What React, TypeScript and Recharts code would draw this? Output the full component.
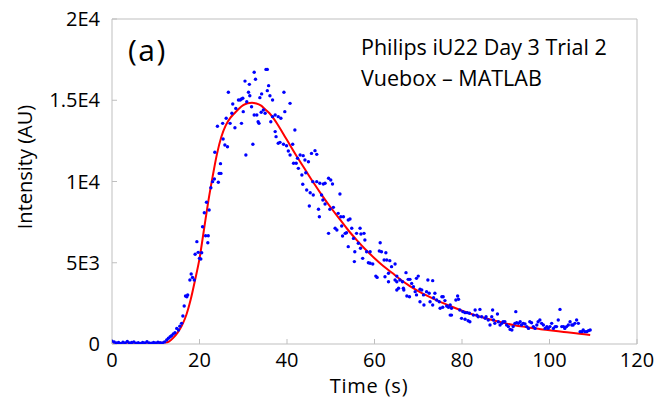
import { ComposedChart, Line, Scatter, XAxis, YAxis } from "recharts";

// axis ticks
const xTicks = [0, 20, 40, 60, 80, 100, 120];
const yTicks = [0, 5000, 10000, 15000, 20000];
const yTickLabels = ["0", "5E3", "1E4", "1.5E4", "2E4"];

const baselinePoints = [
  [0, 180], [0.5, 120], [1, 60], [1.5, 90], [2, 40], [2.5, 110], [3, 70], [3.5, 150], [4, 60],
  [4.5, 90], [5, 130], [5.5, 50], [6, 80], [6.5, 40], [7, 100], [7.5, 60], [8, 140], [8.5, 70],
  [9, 50], [9.5, 90], [10, 60], [10.5, 110], [11, 80], [11.5, 60], [12, 130],
];

const risePoints = [
  [12.5, 250], [12.9, 350], [13.3, 450], [13.6, 510], [14.0, 615], [14.4, 700], [14.8, 960],
  [15.2, 860], [15.5, 1100], [15.9, 1270], [16.2, 1720], [16.5, 2340], [16.8, 2950], [17.1, 2910],
  [17.3, 3020], [17.8, 3940], [18.1, 4310], [18.4, 4100], [18.8, 3940], [19.0, 5520], [19.4, 6300],
  [19.7, 5640], [20.0, 5270], [20.3, 5230], [20.5, 5620], [20.7, 7220], [21.1, 8080], [21.4, 6660],
  [21.6, 8720], [21.9, 6230], [22.0, 6660], [22.2, 8250],
];

const peakPoints = [
  [22.6, 9620], [23.0, 9990], [23.4, 10150], [23.5, 11800], [24.1, 13400], [24.3, 9950],
  [24.5, 10500], [24.8, 11100], [24.9, 10500], [25.3, 13580], [25.4, 12620], [25.8, 12250],
  [26.1, 13890], [26.4, 12140], [26.6, 15490], [27.0, 13580], [27.4, 14200], [27.6, 14770],
  [28.1, 13310], [28.3, 14500], [28.9, 15020], [29.3, 15020], [29.6, 15080], [29.6, 13580],
  [29.9, 15120], [30.0, 14300], [30.4, 16180], [30.6, 11630], [30.8, 14910], [31.2, 15490],
  [31.4, 15980], [31.5, 15280], [31.9, 14600], [32.2, 12290], [32.5, 16720], [32.5, 14090],
  [32.8, 16290], [33.1, 14090], [33.4, 13680], [33.6, 13580], [33.8, 15160], [34.1, 14260],
  [34.2, 15390], [34.6, 14400], [35.0, 14200], [35.2, 16900], [35.5, 16900], [35.5, 15590],
  [35.8, 15900], [36.1, 15280], [36.3, 13680], [36.7, 15020], [36.7, 13990], [37.3, 14090],
  [37.3, 13070], [37.5, 12760], [38.0, 13990], [38.0, 12350], [38.4, 12410], [38.6, 13890],
  [39.2, 12290], [39.3, 15490], [39.5, 14300], [39.9, 12200], [40.3, 11880], [40.7, 14810],
  [40.7, 11630], [41.3, 12290], [41.5, 11120], [41.8, 13170], [42.1, 11120], [42.4, 11430],
  [42.6, 10810],
];

const washoutPoints = [
  [43.0, 11630], [43.4, 10400], [43.6, 9830], [43.7, 11590], [44.1, 11320], [44.3, 10540],
  [44.5, 9480], [44.9, 11220], [45.1, 8490], [45.3, 9310], [45.6, 11730], [45.9, 9990],
  [46.0, 9170], [46.4, 11900], [46.8, 11670], [46.8, 9990], [47.2, 8290], [47.4, 7830],
  [47.5, 9890], [47.9, 9170], [48.2, 8860], [48.3, 9850], [48.7, 9890], [48.7, 8620],
  [49.5, 10200], [49.5, 6810], [49.8, 8290], [50.0, 10090], [50.4, 9850], [50.6, 8410],
  [51.0, 7120], [51.4, 7020], [51.7, 8040], [52.1, 9230], [52.3, 7830], [52.5, 7260],
  [52.7, 6650], [52.9, 7830], [53.3, 6810], [53.6, 6850], [54.0, 7630], [54.0, 5990],
  [54.4, 7690], [54.8, 7120], [55.2, 6500], [55.4, 5070], [55.5, 5680], [55.9, 6810],
  [56.3, 6200], [56.7, 7120], [56.8, 5890], [56.9, 6770], [57.3, 5270], [57.6, 6810],
  [57.8, 6400], [58.2, 5680], [58.6, 5000], [59.0, 5680], [59.0, 4970], [59.6, 4920],
  [60.3, 4180], [60.6, 4100], [61.1, 5720], [61.3, 6230], [61.6, 5680], [62.2, 5170],
  [62.4, 4140], [62.6, 5620], [62.8, 5170], [63.2, 4350], [63.5, 5130], [63.9, 4760],
  [64.7, 4920], [65.1, 4180],
];

const latePoints = [
  [63.2, 3830], [64.7, 3940], [65.1, 3830], [65.1, 3320], [65.5, 3430], [65.8, 3940],
  [66.4, 3830], [66.6, 3430], [66.7, 3320], [67.2, 4390], [67.7, 3980], [68.1, 3980],
  [68.5, 3730], [67.4, 2950], [68.0, 2910], [68.9, 3530], [69.3, 3220], [69.6, 3020],
  [69.6, 4040], [70.0, 4180], [70.4, 3370], [70.8, 3320], [71.2, 3020], [70.4, 2600],
  [71.3, 2400], [71.9, 3220], [72.5, 3120], [72.2, 3940], [73.3, 3900], [72.7, 2600],
  [73.3, 2400], [73.5, 2850], [73.8, 3120], [74.2, 2710], [74.8, 2600], [75.4, 2910],
  [75.7, 2910], [76.1, 2670], [75.0, 2200], [75.6, 2260], [76.5, 2340], [76.9, 2260],
  [77.3, 2400], [77.6, 2200], [77.3, 1780], [77.6, 1780], [78.6, 2710], [79.2, 2750],
  [79.0, 2950], [79.5, 2090], [80.2, 1990], [80.7, 1930], [81.2, 1930], [81.7, 1890],
  [79.9, 1580], [80.7, 1520], [81.4, 1430], [81.8, 1370], [82.6, 1780], [83.4, 1780],
  [84.1, 2130], [83.0, 2090], [83.7, 1680], [84.5, 1680], [85.3, 1580], [85.5, 1680],
  [86.0, 1480],
];

const tailPoints = [
  [86.4, 1170], [86.8, 1680], [87.2, 1480], [87.0, 2090], [87.5, 1270], [88.1, 1850],
  [88.3, 1370], [88.7, 1170], [89.1, 1270], [89.4, 1370], [89.8, 1370], [90.2, 1170],
  [90.6, 1070], [91.0, 900], [91.4, 860], [91.7, 1070], [92.1, 1270], [92.3, 1990],
  [92.5, 1310], [92.9, 1270], [93.3, 1370], [93.6, 1170], [94.0, 1270], [94.4, 1230],
  [94.8, 1070], [95.2, 960], [95.5, 1370], [95.9, 1310], [96.3, 1070], [96.7, 960],
  [97.1, 1170], [97.4, 1370], [97.8, 1480], [98.2, 1270], [98.6, 1170], [99.0, 960],
  [99.4, 1070], [99.7, 960], [100.1, 1070], [100.5, 1270], [100.9, 960], [101.3, 1070],
  [101.6, 1070], [102.0, 1480], [102.4, 2130], [102.8, 1070], [103.2, 1070], [103.5, 960],
  [103.9, 1070], [104.3, 1170], [104.7, 1370], [105.1, 1170], [105.4, 1170], [105.8, 1270],
  [106.2, 1480], [106.6, 1270], [107.0, 760], [107.4, 760], [107.7, 860], [108.1, 760],
  [108.5, 760], [108.9, 820], [109.3, 860],
];

// fitted curve (red)
const fitTimes = [
  0, 4, 8, 12, 13, 14, 15, 16, 17, 18, 19, 20, 21, 22, 23, 24, 25, 26, 27, 28, 29, 30, 31, 32,
  33, 34, 35, 36, 37, 38, 39, 40, 42, 44, 46, 48, 50, 52, 54, 56, 58, 60, 62, 64, 66, 68, 70,
  72, 74, 76, 78, 80, 82, 84, 86, 88, 90, 92, 94, 96, 98, 100, 102, 104, 106, 108, 109.3,
];
const fitValues = [
  60, 60, 60, 80, 150, 380, 700, 1150, 1800, 2750, 3950, 5250, 7000, 8760, 10300, 11700, 12750,
  13450, 13900, 14200, 14480, 14700, 14820, 14850, 14800, 14680, 14450, 14200, 13850, 13450,
  13000, 12550, 11650, 10800, 9950, 9150, 8400, 7700, 7000, 6380, 5800, 5280, 4800, 4380,
  3950, 3580, 3260, 2980, 2720, 2480, 2260, 2050, 1860, 1690, 1540, 1400, 1270, 1160, 1070,
  990, 910, 850, 780, 720, 660, 600, 560,
];

const samples = [
  ...baselinePoints, ...risePoints, ...peakPoints, ...washoutPoints, ...latePoints, ...tailPoints,
].map(([t, v]) => ({ t, v }));
const fitData = fitTimes.map((t, i) => ({ t, v: fitValues[i] }));

const font = "'Open Sans', sans-serif";
const frame = "#bfbfbf";
const tickStyle = { fontFamily: font, fontSize: 20, fill: "#000" };

const Dot = (p: any) => <circle cx={p.cx} cy={p.cy} r={1.7} fill="#0000ff" />;

export default function App() {
  return (
    <div style={{ position: "absolute", left: 0, top: 0, width: 658, height: 403 }}>
      <ComposedChart width={658} height={403} margin={{ top: 18, right: 20, left: 42, bottom: 0 }}>
        <XAxis
          dataKey="t"
          type="number"
          domain={[0, 120]}
          ticks={xTicks}
          height={59}
          stroke={frame}
          tickSize={-5}
          tickMargin={14}
          tick={tickStyle}
          allowDataOverflow
        />
        {/* top and right axes only draw the frame with inward ticks; the fit is plotted on them */}
        <XAxis
          xAxisId="top"
          orientation="top"
          dataKey="t"
          type="number"
          domain={[0, 120]}
          ticks={xTicks}
          height={1}
          stroke={frame}
          tickSize={-5}
          tick={false}
          allowDataOverflow
        />
        <YAxis
          dataKey="v"
          type="number"
          domain={[0, 20000]}
          ticks={yTicks}
          width={70}
          stroke={frame}
          tickSize={-5}
          tickMargin={17}
          tick={tickStyle}
          tickFormatter={(v: number) => yTickLabels[yTicks.indexOf(v)]}
          allowDataOverflow
        />
        <YAxis
          yAxisId="right"
          orientation="right"
          dataKey="v"
          type="number"
          domain={[0, 20000]}
          ticks={yTicks}
          width={1}
          stroke={frame}
          tickSize={-5}
          tick={false}
          allowDataOverflow
        />
        <Scatter data={samples} dataKey="v" shape={Dot} isAnimationActive={false} />
        <Line
          data={fitData}
          dataKey="v"
          xAxisId="top"
          yAxisId="right"
          type="monotone"
          stroke="#ff0000"
          strokeWidth={2}
          dot={false}
          activeDot={false}
          isAnimationActive={false}
        />
      </ComposedChart>
      <svg
        width={658}
        height={403}
        style={{ position: "absolute", left: 0, top: 0, pointerEvents: "none" }}
        fontFamily={font}
      >
        <text x={128} y={61} fontSize={30} letterSpacing={1.5}>(a)</text>
        <text x={361} y={55} fontSize={21.5}>Philips iU22 Day 3 Trial 2</text>
        <text x={361} y={86} fontSize={21.5}>Vuebox – MATLAB</text>
        <text x={369} y={393} fontSize={20} textAnchor="middle" letterSpacing={0.8}>Time (s)</text>
        <text transform="translate(32,167) rotate(-90)" fontSize={20} textAnchor="middle">
          Intensity (AU)
        </text>
      </svg>
    </div>
  );
}
